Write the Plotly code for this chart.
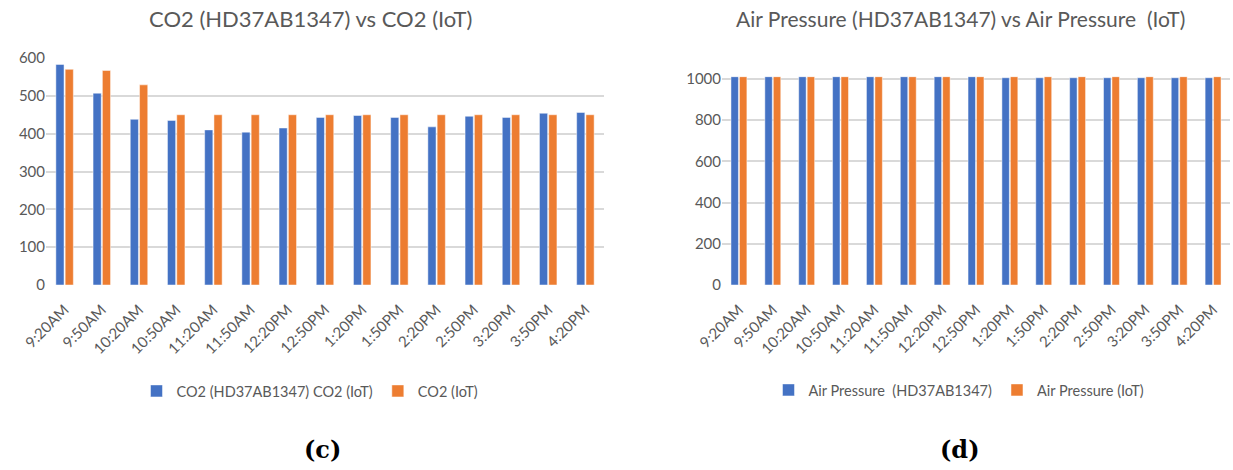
import plotly.graph_objects as go

# Sampling times shared by both charts
times = ["9:20AM", "9:50AM", "10:20AM", "10:50AM", "11:20AM", "11:50AM", "12:20PM",
         "12:50PM", "1:20PM", "1:50PM", "2:20PM", "2:50PM", "3:20PM", "3:50PM", "4:20PM"]

# CO2 readings (ppm)
co2_ref = [583, 507, 438, 435, 410, 404, 415, 443, 448, 443, 418, 446, 443, 454, 456]
co2_iot = [570, 567, 529, 450, 450, 450, 450, 450, 450, 450, 450, 450, 450, 450, 450]

# Air pressure readings (hPa)
ap_ref = [1011, 1011, 1011, 1011, 1011, 1011, 1011, 1011, 1006, 1006, 1006, 1006, 1006, 1006, 1006]
ap_iot = [1011, 1011, 1011, 1011, 1011, 1011, 1011, 1011, 1011, 1011, 1011, 1011, 1011, 1011, 1011]

co2_ticks = [0, 100, 200, 300, 400, 500, 600]
ap_ticks = [0, 200, 400, 600, 800, 1000]

BLUE = "#4472C4"
ORANGE = "#ED7D31"
GREY = "#595959"
GRID = "#D9D9D9"
FONT = "Lato, 'Open Sans', sans-serif"
SERIF = "'DejaVu Serif', 'Liberation Serif', serif"

W, H = 1233, 470

def px_x(x):
    return x / W

def px_y(y):
    return (H - y) / H

fig = go.Figure()

bar_line = dict(color="rgba(255,255,255,0.6)", width=0.8)

fig.add_trace(go.Bar(x=times, y=co2_ref, name="CO2 (HD37AB1347) CO2 (IoT)",
                     marker=dict(color=BLUE, line=bar_line), xaxis="x", yaxis="y", legend="legend"))
fig.add_trace(go.Bar(x=times, y=co2_iot, name="CO2 (IoT)",
                     marker=dict(color=ORANGE, line=bar_line), xaxis="x", yaxis="y", legend="legend"))
fig.add_trace(go.Bar(x=times, y=ap_ref, name="Air Pressure  (HD37AB1347)",
                     marker=dict(color=BLUE, line=bar_line), xaxis="x2", yaxis="y2", legend="legend2"))
fig.add_trace(go.Bar(x=times, y=ap_iot, name="Air Pressure (IoT)",
                     marker=dict(color=ORANGE, line=bar_line), xaxis="x2", yaxis="y2", legend="legend2"))

# invisible outside ticks push the slanted time labels a little below the baseline
xcommon = dict(tickangle=-45, tickfont=dict(family=FONT, size=15, color=GREY),
               showgrid=False, showline=False, ticks="outside", ticklen=9,
               tickcolor="rgba(0,0,0,0)", type="category", automargin=False)
ycommon = dict(tickfont=dict(family=FONT, size=15, color=GREY), showgrid=True,
               gridcolor=GRID, gridwidth=2, zeroline=False, showline=False, ticks="",
               automargin=False)

legend_common = dict(orientation="h", xanchor="center", yanchor="middle",
                     font=dict(family=FONT, size=14.5, color=GREY),
                     bgcolor="rgba(0,0,0,0)", itemwidth=30, traceorder="normal")

fig.update_layout(
    width=W, height=H,
    margin=dict(l=0, r=0, t=0, b=0),
    paper_bgcolor="white", plot_bgcolor="white",
    barmode="group", bargap=0.5, bargroupgap=0.12,
    xaxis=dict(domain=[px_x(46), px_x(604)], anchor="y", **xcommon),
    yaxis=dict(domain=[px_y(285), px_y(58)], anchor="x", range=[0, 600],
               tickvals=co2_ticks, **ycommon),
    xaxis2=dict(domain=[px_x(722), px_x(1230)], anchor="y2", **xcommon),
    yaxis2=dict(domain=[px_y(285), px_y(76.5)], anchor="x2", range=[0, 1012],
                tickvals=ap_ticks, **ycommon),
    legend=dict(x=px_x(310), y=px_y(391), **legend_common),
    legend2=dict(x=px_x(959), y=px_y(390), **legend_common),
    annotations=[
        dict(text="CO2 (HD37AB1347) vs CO2 (IoT)", x=px_x(310), y=px_y(18),
             xref="paper", yref="paper", showarrow=False, xanchor="center", yanchor="middle",
             font=dict(family=FONT, size=22, color=GREY)),
        dict(text="Air Pressure (HD37AB1347) vs Air Pressure  (IoT)", x=px_x(960), y=px_y(18),
             xref="paper", yref="paper", showarrow=False, xanchor="center", yanchor="middle",
             font=dict(family=FONT, size=21, color=GREY)),
        dict(text="<b>(c)</b>", x=px_x(323), y=px_y(449),
             xref="paper", yref="paper", showarrow=False, xanchor="center", yanchor="middle",
             font=dict(family=SERIF, size=24, color="black")),
        dict(text="<b>(d)</b>", x=px_x(960), y=px_y(449),
             xref="paper", yref="paper", showarrow=False, xanchor="center", yanchor="middle",
             font=dict(family=SERIF, size=24, color="black")),
    ],
)

fig.write_html("out.html")
